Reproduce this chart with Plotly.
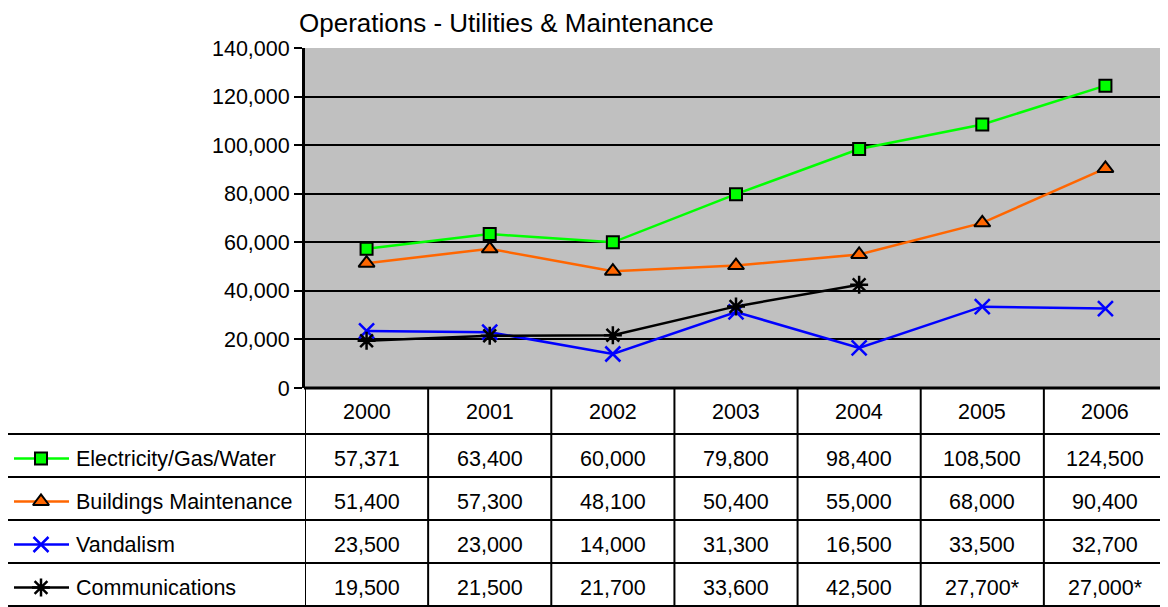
import plotly.graph_objects as go

years = ["2000", "2001", "2002", "2003", "2004", "2005", "2006"]
series_names = ["Electricity/Gas/Water", "Buildings Maintenance", "Vandalism", "Communications"]
electricity = [57371, 63400, 60000, 79800, 98400, 108500, 124500]
buildings = [51400, 57300, 48100, 50400, 55000, 68000, 90400]
vandalism = [23500, 23000, 14000, 31300, 16500, 33500, 32700]
communications = [19500, 21500, 21700, 33600, 42500, 27700, 27000]
comm_footnote = [False, False, False, False, False, True, True]
title_text = "Operations - Utilities & Maintenance"

# ---- layout geometry (viewport pixels; page body has an 8px margin) ----
OFF = 8
W, H = 1168 - OFF, 607 - OFF


def px(v):
    return v - OFF


PX0, PX1 = px(305), px(1167)          # plot area left/right
PY_TOP, PY_BOT = px(48), px(388)      # plot area top/bottom
ROW_LINES = [px(v) for v in [388, 434, 477, 520, 563, 606]]
TABLE_LEFT = px(7)

colors = ["#00FF00", "#FF6600", "#0000FF", "#000000"]
markers = [
    dict(symbol="square", size=12, color="#00FF00", line=dict(color="black", width=2)),
    dict(symbol="triangle-up", size=14, color="#FF6600", line=dict(color="black", width=2)),
    dict(symbol="x-thin-open", size=15, color="#0000FF", line=dict(color="#0000FF", width=2.5)),
    dict(symbol="asterisk-open", size=15, color="#000000", line=dict(color="#000000", width=2.5)),
]

comm_plot = [None if f else v for v, f in zip(communications, comm_footnote)]
plot_series = [electricity, buildings, vandalism, comm_plot]
table_series = [electricity, buildings, vandalism, communications]
table_flags = [[False] * 7, [False] * 7, [False] * 7, comm_footnote]

fig = go.Figure()

for name, vals, c, m in zip(series_names, plot_series, colors, markers):
    fig.add_trace(go.Scatter(
        x=years, y=vals, mode="lines+markers", name=name,
        line=dict(color=c, width=2.5), marker=m, connectgaps=False,
        xaxis="x", yaxis="y", showlegend=False, cliponaxis=False,
    ))

TABLE_FONT = dict(family="Liberation Sans, Arial", size=21.5, color="black")

# legend keys inside table (pixel overlay subplot)
for i, (c, m) in enumerate(zip(colors, markers)):
    yc = (ROW_LINES[i + 1] + ROW_LINES[i + 2]) / 2 + 3
    fig.add_trace(go.Scatter(
        x=[px(14), px(69)], y=[yc, yc], mode="lines", line=dict(color=c, width=2.5),
        xaxis="x2", yaxis="y2", showlegend=False, hoverinfo="skip",
    ))
    fig.add_trace(go.Scatter(
        x=[px(41)], y=[yc], mode="markers", marker=m,
        xaxis="x2", yaxis="y2", showlegend=False, hoverinfo="skip",
    ))

shapes = []
shapes.append(dict(type="rect", xref="x domain", yref="y domain", x0=0, x1=1, y0=0, y1=1,
                   fillcolor="#C0C0C0", line=dict(width=0), layer="below"))
shapes.append(dict(type="line", xref="x2", yref="y2", x0=PX1, x1=PX1, y0=PY_TOP, y1=PY_BOT,
                   line=dict(color="black", width=2)))
shapes.append(dict(type="line", xref="x2", yref="y2", x0=PX0 - 1, x1=PX1 + 1, y0=ROW_LINES[0], y1=ROW_LINES[0],
                   line=dict(color="black", width=3)))
for yl in ROW_LINES[1:]:
    shapes.append(dict(type="line", xref="x2", yref="y2", x0=TABLE_LEFT, x1=PX1 + 1, y0=yl, y1=yl,
                       line=dict(color="black", width=2)))
for k in range(len(years) + 1):
    shapes.append(dict(type="line", xref="x", yref="y2", x0=k - 0.5, x1=k - 0.5,
                       y0=ROW_LINES[0], y1=ROW_LINES[-1], line=dict(color="black", width=2)))
shapes.append(dict(type="line", xref="x2", yref="y2", x0=TABLE_LEFT, x1=TABLE_LEFT,
                   y0=ROW_LINES[1], y1=ROW_LINES[-1], line=dict(color="black", width=2)))

annotations = []
annotations.append(dict(text=title_text, xref="x2", yref="y2", x=px(297), y=px(23), xanchor="left",
                        yanchor="middle", showarrow=False,
                        font=dict(family="Liberation Sans, Arial", size=26, color="black")))
hy = (ROW_LINES[0] + ROW_LINES[1]) / 2 + 1
for j, yr in enumerate(years):
    annotations.append(dict(text=yr, xref="x", yref="y2", x=j, y=hy, showarrow=False,
                            xanchor="center", yanchor="middle", font=TABLE_FONT))
for i, (name, vals, flags) in enumerate(zip(series_names, table_series, table_flags)):
    yc = (ROW_LINES[i + 1] + ROW_LINES[i + 2]) / 2 + 3
    annotations.append(dict(text=name, xref="x2", yref="y2", x=px(74), y=yc, showarrow=False,
                            xanchor="left", yanchor="middle", font=TABLE_FONT))
    for j, (v, f) in enumerate(zip(vals, flags)):
        annotations.append(dict(text=f"{v:,}" + ("*" if f else ""), xref="x", yref="y2", x=j, y=yc,
                                showarrow=False, xanchor="center", yanchor="middle", font=TABLE_FONT))

fig.update_layout(
    width=W, height=H, autosize=False,
    margin=dict(l=0, r=0, t=0, b=0, pad=0, autoexpand=False),
    paper_bgcolor="white", plot_bgcolor="rgba(0,0,0,0)",
    font=dict(family="Liberation Sans, Arial", color="black"),
    xaxis=dict(domain=[PX0 / W, PX1 / W], range=[-0.5, 6.5], type="category",
               showticklabels=False, showgrid=False, zeroline=False, ticks="",
               showline=False, anchor="y", fixedrange=True, automargin=False),
    yaxis=dict(domain=[(H - PY_BOT) / H, (H - PY_TOP) / H], range=[0, 140000], dtick=20000,
               tickformat=",", showgrid=True, gridcolor="black", gridwidth=2,
               zeroline=False, showline=True, linecolor="black", linewidth=3,
               ticks="outside", ticklen=8, tickwidth=2, tickcolor="black",
               tickfont=dict(family="Liberation Sans, Arial", size=21.5, color="black"),
               anchor="x", fixedrange=True, automargin=False),
    xaxis2=dict(domain=[0, 1], range=[0, W], visible=False, anchor="y2", fixedrange=True, automargin=False),
    yaxis2=dict(domain=[0, 1], range=[H, 0], visible=False, anchor="x2", fixedrange=True, automargin=False),
    shapes=shapes,
    annotations=annotations,
    showlegend=False,
)

fig.write_html("out.html")
